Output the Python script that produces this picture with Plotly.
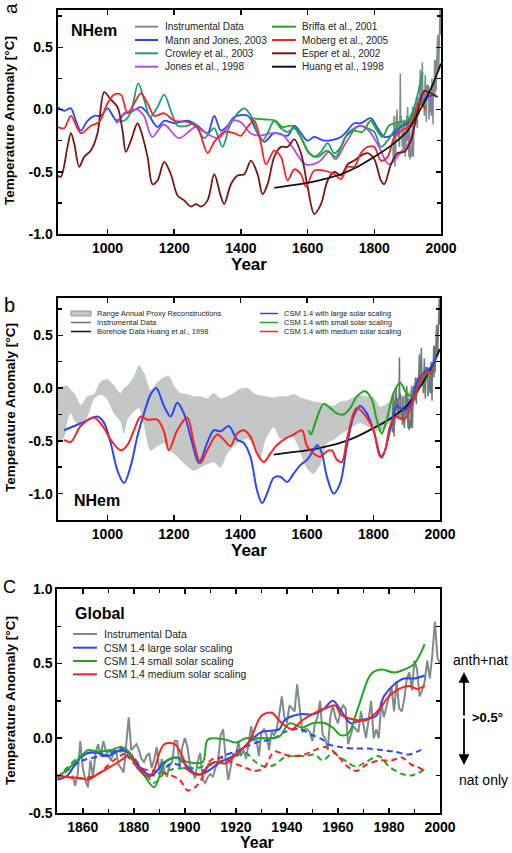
import plotly.graph_objects as go

# ------------------------------------------------------------------ DATA
# Panel a : NH reconstructions
mann_years = [850, 870, 890, 905, 920, 940, 960, 980, 1000, 1020, 1030, 1050, 1070, 1100, 1120, 1150, 1170, 1200, 1240, 1270, 1300, 1320, 1340, 1360, 1380, 1420, 1450, 1470, 1500, 1540, 1560, 1580, 1600, 1620, 1650, 1700, 1740, 1760, 1790, 1810, 1830, 1850, 1880, 1900, 1940, 1960, 1980]
mann_vals = [0.02, -0.01, 0.01, -0.09, -0.17, -0.09, -0.05, -0.05, 0.01, -0.07, -0.10, -0.03, -0.02, 0.02, -0.03, -0.14, -0.09, -0.11, -0.09, -0.13, -0.19, -0.05, -0.17, -0.13, -0.06, -0.05, -0.19, -0.26, -0.19, -0.21, -0.13, -0.19, -0.25, -0.22, -0.25, -0.22, -0.11, -0.11, -0.07, -0.15, -0.22, -0.21, -0.14, -0.11, 0.05, 0.10, 0.12]

crowley_years = [1025, 1050, 1070, 1092, 1110, 1128, 1150, 1170, 1190, 1210, 1240, 1260, 1290, 1310, 1320, 1345, 1365, 1390, 1410, 1430, 1450, 1465, 1480, 1500, 1520, 1540, 1560, 1580, 1600, 1620, 1640, 1660, 1680, 1700, 1720, 1740, 1760, 1780, 1800, 1820, 1840, 1860, 1880, 1900, 1920, 1935, 1945]
crowley_vals = [-0.08, -0.09, -0.02, 0.21, 0.08, -0.06, 0.02, 0.12, -0.01, -0.13, -0.13, -0.11, -0.23, -0.17, -0.15, -0.30, -0.14, -0.03, 0.01, -0.05, -0.19, -0.25, -0.19, -0.09, -0.15, -0.18, -0.15, -0.22, -0.33, -0.38, -0.34, -0.27, -0.35, -0.30, -0.19, -0.15, -0.13, -0.15, -0.18, -0.30, -0.25, -0.17, -0.13, -0.09, 0.02, 0.18, 0.30]

jones_years = [1025, 1054, 1089, 1109, 1134, 1169, 1214, 1264, 1284, 1334, 1374, 1399, 1429, 1454, 1494, 1524, 1554, 1594, 1634, 1664, 1684, 1714, 1754, 1784, 1814, 1844, 1884, 1904, 1934, 1949, 1974]
jones_vals = [-0.11, -0.03, 0.00, -0.05, -0.22, -0.12, -0.23, -0.14, -0.17, -0.23, -0.09, -0.10, -0.19, -0.21, -0.19, -0.20, -0.30, -0.44, -0.42, -0.34, -0.40, -0.27, -0.13, -0.17, -0.30, -0.44, -0.33, -0.27, 0.02, 0.12, 0.05]

briffa_years = [1429, 1474, 1504, 1524, 1554, 1579, 1604, 1629, 1659, 1684, 1714, 1739, 1764, 1789, 1804, 1824, 1844, 1874, 1904, 1924, 1944, 1959]
briffa_vals = [-0.07, -0.08, -0.09, -0.14, -0.13, -0.22, -0.35, -0.38, -0.33, -0.38, -0.22, -0.17, -0.18, -0.09, -0.15, -0.22, -0.13, -0.10, -0.09, 0.00, 0.06, 0.08]

moberg_years = [850, 870, 890, 920, 950, 975, 1000, 1020, 1040, 1060, 1080, 1100, 1120, 1140, 1170, 1200, 1240, 1270, 1300, 1320, 1350, 1380, 1400, 1420, 1440, 1460, 1475, 1500, 1520, 1540, 1560, 1580, 1595, 1620, 1650, 1680, 1700, 1720, 1740, 1760, 1780, 1800, 1820, 1840, 1860, 1880, 1900, 1920, 1935, 1954]
moberg_vals = [-0.14, -0.15, -0.05, -0.19, -0.13, -0.10, 0.05, 0.12, 0.12, -0.03, 0.05, 0.13, 0.05, -0.05, -0.03, -0.09, -0.10, -0.15, -0.35, -0.26, -0.18, -0.19, -0.21, -0.14, -0.09, -0.27, -0.44, -0.33, -0.38, -0.57, -0.48, -0.52, -0.62, -0.49, -0.49, -0.52, -0.56, -0.46, -0.46, -0.35, -0.30, -0.30, -0.41, -0.38, -0.22, -0.17, -0.14, -0.05, 0.06, 0.00]

esper_years = [850, 860, 880, 890, 900, 915, 930, 950, 970, 990, 1010, 1030, 1045, 1055, 1070, 1090, 1100, 1120, 1135, 1150, 1170, 1190, 1210, 1230, 1250, 1265, 1280, 1300, 1320, 1340, 1350, 1370, 1390, 1410, 1430, 1450, 1465, 1480, 1500, 1520, 1540, 1560, 1580, 1600, 1620, 1640, 1660, 1680, 1700, 1720, 1740, 1760, 1780, 1800, 1820, 1830, 1850, 1870, 1890, 1910, 1930, 1950, 1970, 1990]
esper_vals = [-0.53, -0.54, -0.30, -0.19, -0.27, -0.46, -0.38, -0.33, -0.19, 0.14, 0.08, 0.02, -0.17, -0.34, -0.25, -0.11, -0.17, -0.38, -0.60, -0.57, -0.42, -0.52, -0.69, -0.73, -0.78, -0.76, -0.78, -0.73, -0.52, -0.70, -0.76, -0.60, -0.53, -0.52, -0.41, -0.52, -0.68, -0.60, -0.38, -0.30, -0.30, -0.24, -0.35, -0.62, -0.84, -0.76, -0.57, -0.50, -0.53, -0.44, -0.41, -0.37, -0.35, -0.40, -0.57, -0.60, -0.44, -0.35, -0.34, -0.25, -0.01, 0.15, 0.13, 0.10]

huang_years = [1500, 1550, 1600, 1650, 1700, 1750, 1800, 1850, 1900, 1925, 1950, 1975, 2000]
huang_vals = [-0.63, -0.61, -0.59, -0.56, -0.52, -0.46, -0.38, -0.29, -0.17, -0.06, 0.06, 0.20, 0.37]

# NH instrumental (annual), panels a and b
nh_instr_years = list(range(1856, 2004))
nh_instr_vals = [-0.30, -0.42, -0.25, -0.05, -0.28, -0.38, -0.46, -0.12, -0.35, -0.15,
                 -0.05, -0.18, 0.00, -0.12, -0.15, -0.22, -0.12, -0.10, -0.25, -0.30,
                 -0.28, -0.02, 0.29, -0.10, -0.08, -0.05, -0.12, -0.25, -0.30, -0.20,
                 -0.18, -0.35, -0.22, -0.08, -0.30, -0.20, -0.32, -0.38, -0.25, -0.22,
                 -0.05, -0.05, -0.25, -0.10, 0.02, -0.08, -0.25, -0.30, -0.38, -0.22,
                 -0.10, -0.40, -0.35, -0.32, -0.30, -0.32, -0.38, -0.22, -0.02, 0.02,
                 -0.20, -0.38, -0.25, -0.10, -0.12, 0.02, -0.10, -0.05, -0.12, 0.02,
                 0.10, 0.00, 0.05, -0.15, 0.08, 0.10, 0.05, -0.05, 0.10, 0.05,
                 0.10, 0.20, 0.32, 0.15, 0.10, 0.20, 0.18, 0.22, 0.38, 0.20,
                 0.05, 0.08, 0.10, 0.05, -0.05, 0.10, 0.15, 0.28, 0.02, 0.00,
                 -0.10, 0.12, 0.20, 0.15, 0.10, 0.18, 0.20, 0.18, -0.08, 0.00,
                 0.05, 0.05, -0.02, 0.12, 0.05, -0.05, 0.05, 0.25, -0.05, 0.05,
                 -0.12, 0.22, 0.10, 0.15, 0.25, 0.40, 0.10, 0.40, 0.18, 0.15,
                 0.25, 0.35, 0.45, 0.38, 0.60, 0.50, 0.30, 0.32, 0.45, 0.62,
                 0.45, 0.58, 0.88, 0.70, 0.60, 0.72, 0.80, 0.78]

# Panel b : range of proxy reconstructions
band_years = [850, 870, 880, 890, 900, 920, 940, 960, 980, 1000, 1020, 1040, 1050, 1060, 1080, 1095, 1110, 1130, 1150, 1170, 1185, 1200, 1220, 1240, 1260, 1280, 1300, 1320, 1340, 1360, 1380, 1400, 1420, 1440, 1457, 1475, 1500, 1520, 1540, 1560, 1580, 1600, 1620, 1640, 1660, 1680, 1700, 1720, 1740, 1760, 1780, 1800, 1820, 1840, 1860, 1880, 1900, 1920, 1940, 1960, 1980]
band_upper = [0.00, 0.02, 0.02, -0.02, -0.05, -0.16, -0.08, -0.06, 0.06, 0.08, 0.02, -0.05, 0.00, 0.02, 0.11, 0.21, 0.14, -0.02, 0.05, 0.10, 0.11, 0.02, -0.05, -0.06, -0.08, -0.08, -0.10, -0.05, -0.10, -0.08, -0.05, -0.01, 0.00, -0.05, -0.07, -0.08, -0.09, -0.08, -0.08, -0.06, -0.09, -0.11, -0.13, -0.14, -0.16, -0.17, -0.13, -0.12, -0.09, -0.07, -0.08, -0.09, -0.18, -0.15, -0.11, -0.08, -0.06, 0.02, 0.11, 0.14, 0.14]
band_lower = [-0.54, -0.46, -0.30, -0.24, -0.30, -0.36, -0.27, -0.10, -0.06, -0.11, -0.24, -0.32, -0.43, -0.30, -0.22, -0.19, -0.35, -0.59, -0.55, -0.52, -0.58, -0.62, -0.68, -0.74, -0.78, -0.75, -0.72, -0.70, -0.75, -0.62, -0.55, -0.50, -0.48, -0.52, -0.68, -0.49, -0.37, -0.48, -0.47, -0.47, -0.60, -0.76, -0.81, -0.72, -0.52, -0.49, -0.44, -0.40, -0.36, -0.33, -0.36, -0.39, -0.41, -0.36, -0.30, -0.27, -0.20, -0.10, 0.02, 0.06, 0.10]

# Panel b : CSM 1.4 NH simulations
csm_large_years = [870, 900, 930, 970, 990, 1010, 1030, 1050, 1070, 1090, 1110, 1130, 1147, 1170, 1190, 1210, 1230, 1250, 1275, 1300, 1320, 1340, 1365, 1390, 1410, 1430, 1450, 1465, 1480, 1500, 1520, 1540, 1560, 1580, 1600, 1620, 1630, 1645, 1660, 1680, 1700, 1720, 1740, 1760, 1780, 1800, 1825, 1850, 1870, 1890, 1910, 1930, 1950, 1970, 1990]
csm_large_vals = [-0.40, -0.36, -0.32, -0.27, -0.33, -0.52, -0.78, -0.90, -0.74, -0.46, -0.24, -0.06, 0.00, -0.17, -0.27, -0.14, -0.24, -0.46, -0.71, -0.52, -0.40, -0.41, -0.36, -0.49, -0.52, -0.65, -0.97, -1.09, -1.00, -0.85, -0.84, -0.89, -0.81, -0.73, -0.68, -0.59, -0.54, -0.62, -0.84, -1.00, -0.90, -0.55, -0.27, -0.17, -0.24, -0.40, -0.66, -0.40, -0.17, -0.21, -0.17, 0.05, 0.14, 0.19, 0.30]

csm_medium_years = [870, 890, 920, 960, 990, 1010, 1040, 1060, 1080, 1100, 1120, 1150, 1170, 1185, 1210, 1240, 1260, 1280, 1300, 1330, 1350, 1370, 1390, 1410, 1430, 1450, 1470, 1490, 1510, 1540, 1560, 1585, 1600, 1620, 1640, 1660, 1675, 1690, 1705, 1720, 1740, 1750, 1770, 1800, 1820, 1835, 1850, 1870, 1890, 1910, 1930, 1950, 1970, 1980]
csm_medium_vals = [-0.49, -0.51, -0.36, -0.28, -0.38, -0.49, -0.59, -0.54, -0.40, -0.27, -0.30, -0.30, -0.41, -0.59, -0.40, -0.28, -0.52, -0.71, -0.59, -0.44, -0.49, -0.55, -0.43, -0.40, -0.46, -0.62, -0.70, -0.62, -0.54, -0.47, -0.44, -0.40, -0.55, -0.62, -0.65, -0.60, -0.59, -0.68, -0.70, -0.49, -0.24, -0.19, -0.24, -0.40, -0.65, -0.59, -0.36, -0.27, -0.30, -0.21, -0.02, 0.13, 0.14, 0.16]

csm_small_years = [1605, 1612, 1625, 1650, 1670, 1690, 1710, 1730, 1750, 1775, 1795, 1810, 1825, 1840, 1860, 1880, 1900, 1920, 1940, 1960, 1980]
csm_small_vals = [-0.40, -0.44, -0.33, -0.15, -0.19, -0.24, -0.25, -0.19, -0.08, -0.03, -0.11, -0.30, -0.43, -0.30, -0.05, 0.05, -0.05, -0.08, 0.05, 0.14, 0.16]

# Panel c : global
gl_instr_years = list(range(1856, 2001))
gl_instr_vals = [-0.25, -0.32, -0.24, -0.02, -0.20, -0.28, -0.33, -0.15, -0.26, -0.10,
                 -0.04, -0.12, -0.02, -0.08, -0.12, -0.15, -0.10, -0.08, -0.18, -0.20,
                 -0.23, -0.05, 0.14, -0.08, -0.06, -0.04, -0.08, -0.14, -0.16, -0.12,
                 -0.10, -0.20, -0.14, -0.06, -0.22, -0.14, -0.22, -0.26, -0.18, -0.16,
                 -0.02, -0.02, -0.20, -0.06, 0.00, -0.06, -0.18, -0.22, -0.27, -0.16,
                 -0.10, -0.28, -0.30, -0.26, -0.24, -0.26, -0.20, -0.16, 0.02, 0.06,
                 -0.14, -0.28, -0.18, -0.10, -0.12, -0.02, -0.12, -0.08, -0.14, -0.04,
                 0.08, -0.02, 0.00, -0.12, 0.04, 0.06, 0.02, -0.08, 0.04, 0.02,
                 0.06, 0.16, 0.28, 0.14, 0.10, 0.22, 0.20, 0.18, 0.36, 0.20,
                 0.04, 0.06, 0.06, 0.04, -0.02, 0.10, 0.14, 0.25, 0.02, 0.00,
                 -0.08, 0.14, 0.22, 0.14, 0.10, 0.18, 0.22, 0.20, -0.04, 0.02,
                 0.08, 0.06, 0.04, 0.18, 0.10, 0.00, 0.12, 0.25, 0.00, 0.06,
                 0.00, 0.24, 0.14, 0.22, 0.28, 0.34, 0.18, 0.38, 0.20, 0.18,
                 0.26, 0.40, 0.44, 0.32, 0.52, 0.46, 0.28, 0.32, 0.38, 0.52,
                 0.40, 0.56, 0.78, 0.54, 0.50]

gl_large_years = [1850, 1854, 1858, 1862, 1866, 1870, 1875, 1878, 1883, 1887, 1890, 1892, 1897, 1901, 1904, 1907, 1910, 1914, 1920, 1925, 1930, 1937, 1939, 1945, 1950, 1954, 1958, 1961, 1965, 1969, 1975, 1978, 1982, 1986, 1990, 1994]
gl_large_vals = [-0.28, -0.25, -0.15, -0.10, -0.10, -0.12, -0.08, -0.10, -0.21, -0.25, -0.20, -0.16, -0.13, -0.19, -0.24, -0.24, -0.21, -0.16, -0.11, -0.03, 0.04, 0.06, 0.12, 0.16, 0.16, 0.19, 0.25, 0.19, 0.10, 0.12, 0.15, 0.28, 0.36, 0.40, 0.40, 0.42]

gl_small_years = [1850, 1854, 1860, 1862, 1866, 1871, 1875, 1878, 1881, 1884, 1888, 1892, 1896, 1901, 1907, 1909, 1916, 1920, 1924, 1930, 1937, 1941, 1946, 1950, 1955, 1958, 1961, 1964, 1968, 1973, 1977, 1982, 1986, 1990, 1994]
gl_small_vals = [-0.26, -0.21, -0.11, -0.08, -0.09, -0.08, -0.06, -0.09, -0.19, -0.25, -0.33, -0.17, -0.13, -0.16, -0.16, -0.01, -0.01, -0.03, 0.00, 0.00, 0.01, 0.10, 0.07, 0.10, 0.10, 0.07, 0.02, 0.03, 0.21, 0.43, 0.46, 0.44, 0.46, 0.50, 0.63]

gl_medium_years = [1850, 1854, 1860, 1862, 1866, 1871, 1874, 1878, 1882, 1886, 1888, 1890, 1892, 1896, 1899, 1901, 1904, 1907, 1909, 1912, 1916, 1920, 1925, 1930, 1934, 1938, 1942, 1946, 1951, 1955, 1959, 1961, 1965, 1971, 1976, 1980, 1984, 1988, 1991, 1994]
gl_medium_vals = [-0.25, -0.26, -0.27, -0.28, -0.24, -0.19, -0.16, -0.12, -0.21, -0.26, -0.21, -0.10, -0.04, -0.04, -0.12, -0.21, -0.24, -0.24, -0.19, -0.16, -0.17, -0.11, -0.03, 0.15, 0.17, 0.10, 0.06, 0.12, 0.17, 0.20, 0.22, 0.16, 0.13, 0.12, 0.19, 0.28, 0.33, 0.35, 0.33, 0.35]

# natural-only runs (dashed)
nat_large_years = [1850, 1860, 1870, 1875, 1880, 1888, 1895, 1900, 1905, 1910, 1915, 1920, 1925, 1930, 1934, 1939, 1945, 1950, 1954, 1956, 1961, 1967, 1972, 1977, 1982, 1988, 1991, 1994]
nat_large_vals = [-0.27, -0.15, -0.11, -0.07, -0.17, -0.25, -0.17, -0.20, -0.24, -0.18, -0.12, -0.09, -0.05, -0.02, -0.01, 0.04, 0.06, 0.02, -0.01, -0.04, -0.06, -0.07, -0.07, -0.08, -0.09, -0.11, -0.09, -0.07]

nat_small_years = [1850, 1860, 1870, 1878, 1885, 1888, 1893, 1900, 1905, 1910, 1915, 1920, 1924, 1927, 1931, 1935, 1939, 1943, 1947, 1951, 1954, 1958, 1961, 1967, 1971, 1976, 1980, 1985, 1989, 1994]
nat_small_vals = [-0.27, -0.11, -0.09, -0.10, -0.25, -0.30, -0.22, -0.20, -0.20, -0.17, -0.15, -0.12, -0.10, -0.15, -0.19, -0.18, -0.13, -0.12, -0.12, -0.11, -0.15, -0.10, -0.13, -0.19, -0.16, -0.12, -0.19, -0.24, -0.25, -0.21]

nat_medium_years = [1850, 1860, 1866, 1872, 1878, 1883, 1888, 1893, 1898, 1901, 1904, 1907, 1910, 1914, 1918, 1924, 1927, 1931, 1935, 1939, 1943, 1947, 1951, 1955, 1959, 1963, 1967, 1971, 1976, 1981, 1985, 1989, 1991, 1994]
nat_medium_vals = [-0.25, -0.27, -0.24, -0.15, -0.10, -0.20, -0.22, -0.24, -0.28, -0.35, -0.33, -0.26, -0.15, -0.13, -0.16, -0.20, -0.22, -0.20, -0.09, -0.11, -0.12, -0.11, -0.08, -0.06, -0.10, -0.18, -0.22, -0.18, -0.15, -0.15, -0.13, -0.18, -0.19, -0.22]

# Tick labels
xa_ticks = [1000, 1200, 1400, 1600, 1800, 2000]
ya_ticks = [-1.0, -0.5, 0.0, 0.5]
ya_labels = ["-1.0", "-0.5", "0.0", "0.5"]
yb_ticks = [-1.0, -0.5, 0.0, 0.5]
yb_labels = ["-1.0", "-0.5", "0.0", "0.5"]
xc_ticks = [1860, 1880, 1900, 1920, 1940, 1960, 1980, 2000]
yc_ticks = [-0.5, 0.0, 0.5, 1.0]
yc_labels = ["-0.5", "0.0", "0.5", "1.0"]

legend_a_col1 = ["Instrumental Data", "Mann and Jones, 2003", "Crowley et al., 2003", "Jones et al., 1998"]
legend_a_col2 = ["Briffa et al., 2001", "Moberg et al., 2005", "Esper et al., 2002", "Huang et al., 1998"]
legend_b_col1 = ["Range Annual Proxy Reconstructions", "Instrumental Data", "Borehole Data Huang et al., 1998"]
legend_b_col2 = ["CSM 1.4 with large solar scaling", "CSM 1.4 with small solar scaling", "CSM 1.4 with medium solar scaling"]
legend_c = ["Instrumental Data", "CSM 1.4 large solar scaling", "CSM 1.4 small solar scaling", "CSM 1.4 medium solar scaling"]

# ------------------------------------------------------------------ STYLE
W, H = 512, 853
FONT = "Liberation Sans, Arial, Helvetica, sans-serif"
C_INSTR = "#7E8B8B"
C_INSTR_B = "#6B7777"
C_MANN = "#2A45FF"
C_CROW = "#1E9E72"
C_JONES = "#B44AF0"
C_BRIF = "#22A822"
C_MOB = "#FF2222"
C_ESP = "#7A1414"
C_HUANG = "#111111"
C_BLUE = "#2A45FF"
C_GREEN = "#1FA81F"
C_RED = "#FF2020"
C_BAND = "#C3C8C6"


def fx(p):
    return p / W


def fy(p):
    return 1 - p / H


fig = go.Figure()


def line(xs, ys, color, width, xa, ya, dash="solid", spline=True):
    fig.add_trace(go.Scatter(
        x=xs, y=ys, mode="lines", xaxis=xa, yaxis=ya,
        line=dict(color=color, width=width, dash=dash,
                  shape="spline" if spline else "linear", smoothing=0.9),
        showlegend=False, hoverinfo="skip"))


# Panel a
line(nh_instr_years, nh_instr_vals, C_INSTR, 1.5, "x", "y", spline=False)
line(mann_years, mann_vals, C_MANN, 1.8, "x", "y")
line(crowley_years, crowley_vals, C_CROW, 1.8, "x", "y")
line(jones_years, jones_vals, C_JONES, 1.8, "x", "y")
line(briffa_years, briffa_vals, C_BRIF, 1.8, "x", "y")
line(esper_years, esper_vals, C_ESP, 1.8, "x", "y")
line(moberg_years, moberg_vals, C_MOB, 1.8, "x", "y")
line(huang_years, huang_vals, C_HUANG, 1.8, "x", "y")

# Panel b
fig.add_trace(go.Scatter(x=band_years, y=band_lower, mode="lines", xaxis="x2", yaxis="y2",
                         line=dict(color=C_BAND, width=0.5, shape="spline", smoothing=0.8),
                         showlegend=False, hoverinfo="skip"))
fig.add_trace(go.Scatter(x=band_years, y=band_upper, mode="lines", xaxis="x2", yaxis="y2",
                         line=dict(color=C_BAND, width=0.5, shape="spline", smoothing=0.8),
                         fill="tonexty", fillcolor=C_BAND,
                         showlegend=False, hoverinfo="skip"))
line(nh_instr_years, nh_instr_vals, C_INSTR_B, 1.5, "x2", "y2", spline=False)
line(huang_years, huang_vals, C_HUANG, 1.8, "x2", "y2")
line(csm_large_years, csm_large_vals, C_BLUE, 2, "x2", "y2")
line(csm_small_years, csm_small_vals, C_GREEN, 2, "x2", "y2")
line(csm_medium_years, csm_medium_vals, C_RED, 2, "x2", "y2")

# Panel c
line(gl_instr_years, gl_instr_vals, C_INSTR, 2, "x3", "y3", spline=False)
line(nat_large_years, nat_large_vals, C_BLUE, 2, "x3", "y3", dash="6px,4px")
line(nat_small_years, nat_small_vals, C_GREEN, 2, "x3", "y3", dash="6px,4px")
line(nat_medium_years, nat_medium_vals, C_RED, 2, "x3", "y3", dash="6px,4px")
line(gl_large_years, gl_large_vals, C_BLUE, 2, "x3", "y3")
line(gl_small_years, gl_small_vals, C_GREEN, 2, "x3", "y3")
line(gl_medium_years, gl_medium_vals, C_RED, 2, "x3", "y3")

# ------------------------------------------------------------------ AXES
tickfont = dict(family=FONT, size=14, color="black", weight="bold")


def xaxis(rng, ticks, dom, anchor, minor=None):
    d = dict(range=rng, domain=dom, anchor=anchor, tickmode="array", tickvals=ticks,
             ticktext=[str(t) for t in ticks], ticks="inside", ticklen=5, tickwidth=1.5,
             tickcolor="black", showline=True, linewidth=2, linecolor="black", mirror="allticks",
             showgrid=False, zeroline=False, tickfont=tickfont, automargin=False)
    if minor:
        d["minor"] = dict(tickmode="array", tickvals=minor, ticks="inside", ticklen=4,
                          tickwidth=1.5, tickcolor="black", showgrid=False)
    return d


def yaxis(rng, ticks, labels, dom, anchor, minor):
    return dict(range=rng, domain=dom, anchor=anchor, tickmode="array", tickvals=ticks,
                ticktext=labels, ticks="inside", ticklen=5, tickwidth=1.5, tickcolor="black",
                showline=True, linewidth=2, linecolor="black", mirror="allticks",
                showgrid=False, zeroline=False, tickfont=tickfont, automargin=False,
                minor=dict(tickmode="array", tickvals=minor, ticks="inside", ticklen=4,
                           tickwidth=1.5, tickcolor="black", showgrid=False))


xdom = [fx(57.5), fx(441)]
fig.update_layout(
    width=W, height=H, margin=dict(l=0, r=0, t=0, b=0, pad=0, autoexpand=False),
    paper_bgcolor="white", plot_bgcolor="white", showlegend=False,
    xaxis=xaxis([850, 2000], xa_ticks, xdom, "y"),
    yaxis=yaxis([-1.0, 0.8], ya_ticks, ya_labels, [fy(234), fy(10)], "x", [-0.75, -0.25, 0.25, 0.75]),
    xaxis2=xaxis([850, 2000], xa_ticks, [fx(57.5), fx(440)], "y2"),
    yaxis2=yaxis([-1.25, 0.85], yb_ticks, yb_labels, [fy(520), fy(298.3)], "x2", [-0.75, -0.25, 0.25, 0.75]),
    xaxis3=xaxis([1850, 2000], xc_ticks, [fx(57.3), fx(440)], "y3",
                 minor=[1870, 1890, 1910, 1930, 1950, 1970, 1990]),
    yaxis3=yaxis([-0.5, 1.0], yc_ticks, yc_labels, [fy(812.7), fy(589)], "x3", [-0.25, 0.25, 0.75]),
)

# ------------------------------------------------------------------ TEXT
ann = []
shapes = []


def text(x, y, s, size, bold=False, xanchor="center", angle=0, color="black"):
    ann.append(dict(x=fx(x), y=fy(y), xref="paper", yref="paper", text=s, showarrow=False,
                    xanchor=xanchor, yanchor="middle", textangle=angle,
                    font=dict(family=FONT, size=size, color=color,
                              weight="bold" if bold else "normal")))


# axis titles
text(249, 264, "Year", 17, bold=True)
text(249, 550, "Year", 17, bold=True)
text(257, 842, "Year", 16, bold=True)
text(10, 121, "Temperature Anomaly [°C]", 13.5, bold=True, angle=-90)
text(10, 408, "Temperature Anomaly [°C]", 13.5, bold=True, angle=-90)
text(10, 701, "Temperature Anomaly [°C]", 13.5, bold=True, angle=-90)

# panel letters
text(10, 9, "a", 19, angle=-90)
text(9, 305, "b", 20)
text(9, 587, "C", 18)

# region labels
text(69, 31, "NHem", 16, bold=True, xanchor="left")
text(72, 500, "NHem", 16, bold=True, xanchor="left")
text(73, 613, "Global", 16, bold=True, xanchor="left")

# right-side annotations panel c
text(480, 660, "anth+nat", 14)
text(487, 717, "&gt;0.5°", 13, bold=True)
text(483, 780, "nat only", 14)
for y_end in (672, 765):
    ann.append(dict(x=fx(464), y=fy(y_end), xref="paper", yref="paper", ax=0,
                    ay=717 - y_end, axref="pixel", ayref="pixel", text="", showarrow=True,
                    arrowhead=2, arrowsize=1.2, arrowwidth=1.8, arrowcolor="black"))

# legends (manual, compact)
def legend_entry(x0, x1, xt, y, label, color, size, width=2, box=False):
    if box:
        shapes.append(dict(type="rect", xref="paper", yref="paper", x0=fx(x0), x1=fx(x1),
                           y0=fy(y + 2.5), y1=fy(y - 2.5), fillcolor=C_BAND,
                           line=dict(color="#8F9696", width=1)))
    else:
        shapes.append(dict(type="line", xref="paper", yref="paper", x0=fx(x0), x1=fx(x1),
                           y0=fy(y), y1=fy(y), line=dict(color=color, width=width)))
    text(xt, y, label, size, xanchor="left", color="#222222")


rows_a = [26.7, 40.0, 53.3, 66.7]
for lab, col, y in zip(legend_a_col1, [C_INSTR, C_MANN, C_CROW, C_JONES], rows_a):
    legend_entry(135, 158, 163, y, lab, col, 10)
for lab, col, y in zip(legend_a_col2, [C_BRIF, C_MOB, C_ESP, C_HUANG], rows_a):
    legend_entry(272, 296, 300, y, lab, col, 10)

rows_b = [313.5, 322.5, 331.5]
for i, (lab, col, y) in enumerate(zip(legend_b_col1, [C_BAND, C_INSTR_B, C_HUANG], rows_b)):
    legend_entry(71, 91, 95, y, lab, col, 7.5, width=1.5, box=(i == 0))
for lab, col, y in zip(legend_b_col2, [C_BLUE, C_GREEN, C_RED], rows_b):
    legend_entry(260, 278, 282, y, lab, col, 7.5, width=1.5)

rows_c = [634, 647.7, 661, 674.3]
for lab, col, y in zip(legend_c, [C_INSTR, C_BLUE, C_GREEN, C_RED], rows_c):
    legend_entry(73, 97, 102, y, lab, col, 10.5)

fig.update_layout(annotations=ann, shapes=shapes)
fig.write_html("out.html", config={"displayModeBar": False, "staticPlot": True},
               post_script="document.body.style.margin='0';document.body.style.overflow='hidden';")
